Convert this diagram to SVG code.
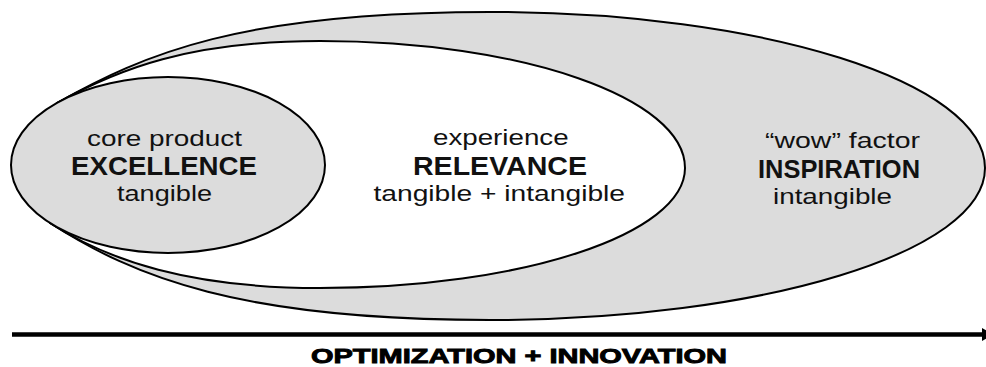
<svg xmlns="http://www.w3.org/2000/svg" width="986" height="367" viewBox="0 0 986 367">
  <style>
    .ring { stroke: #000; stroke-width: 2; stroke-linejoin: round; }
    .grey { fill: #dcdcdc; }
    .white { fill: #ffffff; }
    .lbl { font-family: "Liberation Sans", Arial, sans-serif; font-size: 22px; fill: #111; }
    .head { font-family: "Liberation Sans", Arial, sans-serif; font-size: 25.5px; font-weight: bold; fill: #111; }
    .axis { font-family: "Liberation Sans", Arial, sans-serif; font-size: 21px; font-weight: bold; fill: #000; stroke: #000; stroke-width: 0.9; }
  </style>
  <defs>
    <marker id="tip" markerUnits="userSpaceOnUse" markerWidth="14" markerHeight="16" refX="1" refY="8" orient="auto">
      <path d="M0,1.5 L12,8 L0,14.5 Z" fill="#000"/>
    </marker>
  </defs>

  <!-- outer band: "wow" factor -->
  <g id="inspiration">
    <path class="ring grey" d="M57,103 C144,54 240,12 490,12 C763,12 985,82 985,168 C985,252 763,320 490,320 C240,320 134,277 50,223 Z"/>
    <text class="lbl" x="765" y="148" textLength="155" lengthAdjust="spacingAndGlyphs">“wow” factor</text>
    <text class="head" x="758" y="178" textLength="162" lengthAdjust="spacingAndGlyphs">INSPIRATION</text>
    <text class="lbl" x="773" y="204" textLength="119" lengthAdjust="spacingAndGlyphs">intangible</text>
  </g>

  <!-- middle band: experience -->
  <g id="relevance">
    <path class="ring white" d="M57,103 C118,69 190,41 320,41 C522,41 685,98 685,168 C685,234 522,288 320,288 C190,288 109,261 50,223 Z"/>
    <text class="lbl" x="433" y="145" textLength="135.6" lengthAdjust="spacingAndGlyphs">experience</text>
    <text class="head" x="413" y="175" textLength="174" lengthAdjust="spacingAndGlyphs">RELEVANCE</text>
    <text class="lbl" x="373.5" y="200.5" textLength="251.5" lengthAdjust="spacingAndGlyphs">tangible + intangible</text>
  </g>

  <!-- core -->
  <g id="excellence">
    <ellipse class="ring grey" cx="168" cy="165" rx="157" ry="88"/>
    <text class="lbl" x="87" y="146" textLength="155" lengthAdjust="spacingAndGlyphs">core product</text>
    <text class="head" x="71" y="175" textLength="186" lengthAdjust="spacingAndGlyphs">EXCELLENCE</text>
    <text class="lbl" x="117" y="200.5" textLength="95" lengthAdjust="spacingAndGlyphs">tangible</text>
  </g>

  <!-- axis -->
  <g id="connectors">
    <line x1="12" y1="334.5" x2="983" y2="334.5" stroke="#000" stroke-width="4.7" marker-end="url(#tip)"/>
    <text class="axis" x="311" y="362.5" textLength="416" lengthAdjust="spacingAndGlyphs">OPTIMIZATION + INNOVATION</text>
  </g>
</svg>
